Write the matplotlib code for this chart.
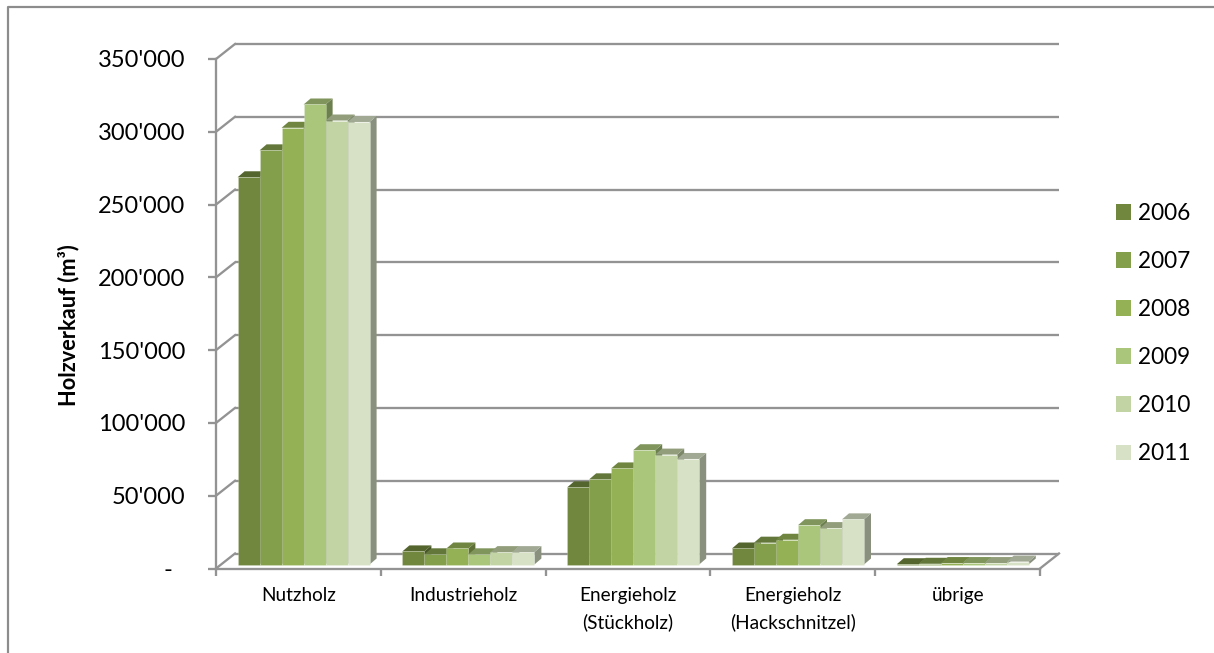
import matplotlib
matplotlib.use("Agg")
import matplotlib.pyplot as plt
from matplotlib.lines import Line2D
from matplotlib.patches import Patch, Polygon
from matplotlib.transforms import Affine2D, IdentityTransform

plt.rcParams['font.family'] = ['Lato', 'DejaVu Sans']

categories = ["Nutzholz", "Industrieholz", "Energieholz\n(Stückholz)",
              "Energieholz\n(Hackschnitzel)", "übrige"]
years = ["2006", "2007", "2008", "2009", "2010", "2011"]
v2006 = [266000, 9000, 53000, 11000, 200]
v2007 = [284500, 7000, 58500, 15000, 500]
v2008 = [300000, 11000, 66000, 17000, 1000]
v2009 = [316000, 7000, 78500, 27000, 1000]
v2010 = [305000, 8500, 75500, 25000, 1000]
v2011 = [304000, 8500, 72500, 31000, 2000]
series = [v2006, v2007, v2008, v2009, v2010, v2011]
colors = ["#71873d", "#839f4c", "#94b155", "#a9c67b", "#c2d3a4", "#d7e1c5"]
yticks = [0, 50000, 100000, 150000, 200000, 250000, 300000, 350000]
ylabels = ["-  ", "50'000", "100'000", "150'000", "200'000", "250'000", "300'000", "350'000"]

W, H = 1214, 653
px = 72 / 100
fig = plt.figure(figsize=(W / 100, H / 100), dpi=100)
ax = fig.add_axes([216 / W, 1 - 568.5 / H, 824 / W, 509.5 / H])
ax.set_xlim(0, 5)
ax.set_ylim(0, 350000)
ax.set_autoscale_on(False)
ax.patch.set_alpha(0)
GREY = "#939393"
LW = 2.3 * px

for s in ("top", "right"):
    ax.spines[s].set_visible(False)
for s in ("left", "bottom"):
    ax.spines[s].set_color(GREY)
    ax.spines[s].set_linewidth(LW)

ax.set_yticks(yticks)
ax.set_yticklabels(ylabels, fontsize=17, color="black")
ax.tick_params(axis='y', length=8 * px, width=LW, color=GREY, pad=23 * px)
ax.set_xticks(range(6))
ax.set_xticklabels([])
ax.tick_params(axis='x', which='major', length=7 * px, width=LW, color=GREY)
ax.set_xticks([i + 0.5 for i in range(5)], minor=True)
ax.set_xticklabels(categories, minor=True, fontsize=13.7, color="black", linespacing=1.6)
ax.tick_params(axis='x', which='minor', length=0, pad=18.5 * px)
ax.set_ylabel("Holzverkauf (m³)", fontsize=15.7, fontweight='bold', color="black")
ax.yaxis.set_label_coords(79 / W, 1 - 325 / H, transform=fig.transFigure)

# Back wall, offset up and to the right of the front axes
BX, BY = 19, 15
back = ax.transData + Affine2D().translate(BX, BY)
ax.hlines(yticks, 0, 5, transform=back, color=GREY, lw=LW, zorder=1, clip_on=False)
for v in yticks:
    x0, y0 = ax.transData.transform((0, v))
    ax.add_line(Line2D([x0, x0 + BX], [y0, y0 + BY], transform=IdentityTransform(),
                       color=GREY, lw=LW, zorder=1, clip_on=False))
x0, y0 = ax.transData.transform((5, 0))
ax.add_line(Line2D([x0, x0 + BX], [y0, y0 + BY], transform=IdentityTransform(),
                   color=GREY, lw=LW, zorder=1, clip_on=False))

# Columns: front face through the axes, with side and top faces derived from it
FX, FY = 5.2, 4
DX, DY = 7, 6
front = ax.transData + Affine2D().translate(FX, FY)
w = 22 / 164.8


def shade(c, f):
    rgb = matplotlib.colors.to_rgb(c)
    return tuple(v * f for v in rgb)


for i in range(len(categories)):
    for j, vals in enumerate(series):
        xc = i + 0.5 + (j - 2.5) * w
        z = 3 + i * 10 + j * 1
        v = vals[i]
        (xl, yb), (xr, yt) = front.transform([(xc - w / 2, 0), (xc + w / 2, v)])
        ax.add_patch(Polygon([(xr, yb), (xr + DX, yb + DY), (xr + DX, yt + DY), (xr, yt)],
                             closed=True, transform=IdentityTransform(), clip_on=False,
                             fc=shade(colors[j], 0.64), ec='none', zorder=z))
        ax.add_patch(Polygon([(xl, yt), (xl + DX, yt + DY), (xr + DX, yt + DY), (xr, yt)],
                             closed=True, transform=IdentityTransform(), clip_on=False,
                             fc=shade(colors[j], 0.75), ec='none', zorder=z))
        ax.bar(xc, v, w, color=colors[j], transform=front, zorder=z + 0.5,
               clip_on=False, edgecolor=(1, 1, 1, 0.18), linewidth=0.7)

# Legend
handles = [Patch(facecolor=c, edgecolor='none') for c in colors]
fig.legend(handles, years, loc='center left', bbox_to_anchor=(1116 / W, 1 - 333.5 / H),
           frameon=False, fontsize=16.3, handlelength=15 / 22.6, handleheight=15 / 22.6,
           handletextpad=0.3, labelspacing=1.195, borderpad=0, borderaxespad=0)

# Chart border (open at the right and bottom edges of the picture)
fig.add_artist(Line2D([8 / W, 8 / W, 1], [0, 1 - 7 / H, 1 - 7 / H],
                      transform=fig.transFigure, color="#8c8c8c", lw=2.2 * px))

fig.savefig("out.png", facecolor="white")
